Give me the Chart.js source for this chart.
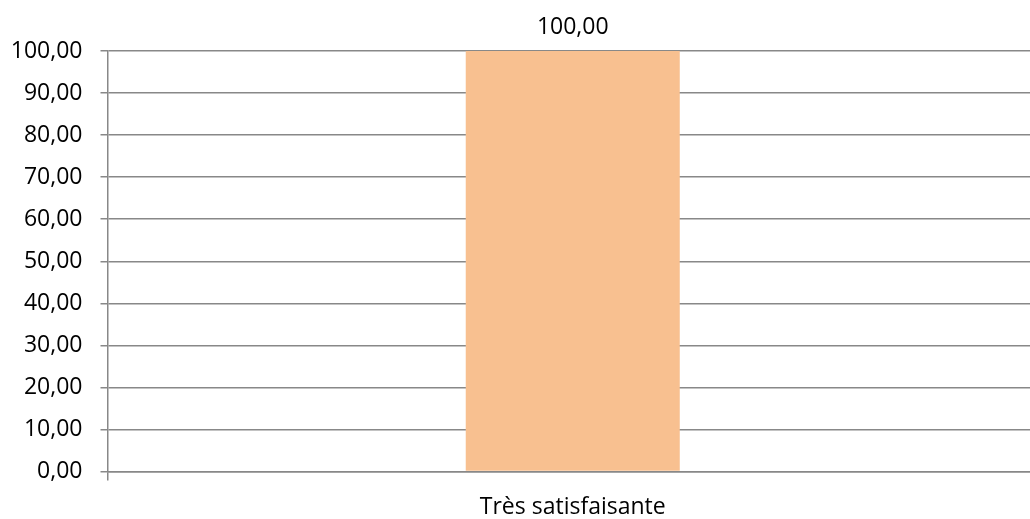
<!DOCTYPE html>
<html><head><meta charset="utf-8">
<script src="https://cdn.jsdelivr.net/npm/chart.js@4"></script>
<style>html,body{margin:0;padding:0;background:#fff;overflow:hidden;}canvas{display:block;}</style>
</head><body>
<canvas id="c" width="1038" height="519"></canvas>
<script>
const categories = ["Très satisfaisante"];
const values = [100];
const yTicks = [0,10,20,30,40,50,60,70,80,90,100];
const fmt = v => v.toFixed(2).replace('.', ',');
const FONT = "'Open Sans', Lato, sans-serif";

const labelPlugin = {
  id: 'lbl',
  afterDatasetsDraw(chart) {
    const ctx = chart.ctx;
    const meta = chart.getDatasetMeta(0);
    ctx.save();
    ctx.fillStyle = '#000';
    ctx.font = "23px " + FONT;
    ctx.textAlign = 'center';
    ctx.textBaseline = 'middle';
    meta.data.forEach((bar, i) => {
      ctx.fillText(fmt(values[i]), bar.x, bar.y - 24);
    });
    ctx.restore();
  }
};

new Chart(document.getElementById('c'), {
  type: 'bar',
  data: {
    labels: categories,
    datasets: [{ data: values, backgroundColor: '#F8C090', borderWidth: 0,
      categoryPercentage: 1, barPercentage: 0.23 }]
  },
  options: {
    responsive: false, animation: false,
    layout: { padding: { top: 51, right: 0, left: 0, bottom: 0 } },
    plugins: { legend: { display: false }, tooltip: { enabled: false } },
    scales: {
      x: {
        grid: { offset: true, drawOnChartArea: false, color: '#888', lineWidth: 1.5, tickLength: 9 },
        border: { color: '#888', width: 1.5 },
        ticks: { color: '#000', font: { family: FONT, size: 23 }, padding: 13 },
        afterFit(s) { s.height = 47.5; }
      },
      y: {
        min: 0, max: 100,
        afterBuildTicks(s) { s.ticks = yTicks.map(v => ({ value: v })); },
        grid: { color: '#888', lineWidth: 1.5, tickLength: 7 },
        border: { color: '#888', width: 1.5 },
        ticks: { color: '#000', font: { family: FONT, size: 23 }, padding: 18, callback: v => fmt(v) },
        afterFit(s) { s.width = 107.5; }
      }
    }
  },
  plugins: [labelPlugin]
});
</script>
</body></html>
